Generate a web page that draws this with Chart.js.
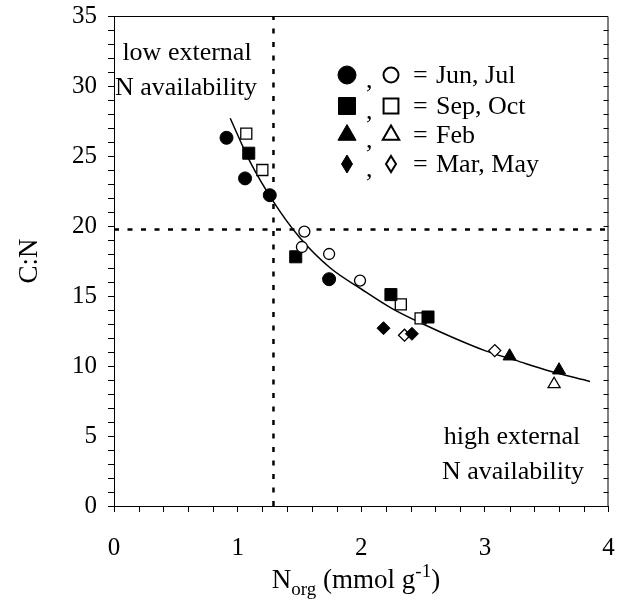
<!DOCTYPE html>
<html>
<head>
<meta charset="utf-8">
<script src="https://cdn.jsdelivr.net/npm/chart.js@4"></script>
<style>
  html, body { margin: 0; padding: 0; background: #fff; }
  canvas { display: block; }
</style>
</head>
<body>
<canvas id="cn-chart" width="618" height="600"></canvas>
<script>
// values: N_org (mmol g-1) vs C:N
const junX = [0.91, 1.06, 1.26, 1.74];
const junY = [26.3, 23.4, 22.2, 16.2];
const julX = [1.54, 1.52, 1.74, 1.99];
const julY = [19.6, 18.5, 18.0, 16.1];
const sepX = [1.09, 1.47, 2.24, 2.54];
const sepY = [25.2, 17.8, 15.1, 13.5];
const octX = [1.07, 1.20, 2.32, 2.48];
const octY = [26.6, 24.0, 14.4, 13.4];
const febFilledX = [3.20, 3.60];
const febFilledY = [10.7, 9.7];
const febOpenX = [3.56];
const febOpenY = [8.7];
const marX = [2.18, 2.41];
const marY = [12.7, 12.3];
const mayX = [2.35, 3.08];
const mayY = [12.2, 11.1];

// fitted curve, read at a few points along it
const fitX = [0.94, 1.1, 1.3, 1.5, 1.75, 2.0, 2.25, 2.5, 2.75, 3.0, 3.25, 3.5, 3.85];
const fitY = [27.7, 24.6, 21.6, 19.2, 17.0, 15.5, 14.1, 13.0, 12.0, 11.1, 10.4, 9.7, 8.9];

// dashed thresholds
const thresholdN = 1.29;
const thresholdCN = 19.75;

const xRange = [0, 4];
const yRange = [0, 35];

const SERIF = '"Liberation Serif", "Times New Roman", serif';

function pts(xs, ys) {
    return xs.map((x, i) => ({ x: x, y: ys[i] }));
}

function marker(label, xs, ys, style, radius, filled) {
    return {
        label: label,
        data: pts(xs, ys),
        pointStyle: style,
        pointRadius: radius,
        pointHoverRadius: radius,
        backgroundColor: filled ? '#000' : '#fff',
        borderColor: '#000',
        borderWidth: filled ? 1 : 1.3,
        showLine: false
    };
}

const datasets = [
    marker('Jun', junX, junY, 'circle', 6.5, true),
    marker('Jul', julX, julY, 'circle', 5.5, false),
    marker('Sep', sepX, sepY, 'rect', 8.5, true),
    marker('Oct', octX, octY, 'rect', 7.8, false),
    marker('Feb', febFilledX, febFilledY, 'triangle', 7.5, true),
    marker('Feb open', febOpenX, febOpenY, 'triangle', 7, false),
    marker('Mar', marX, marY, 'rectRot', 6.5, true),
    marker('May', mayX, mayY, 'rectRot', 6, false),
    {
        label: 'fit',
        data: pts(fitX, fitY),
        showLine: true,
        borderColor: '#000',
        borderWidth: 1.5,
        pointRadius: 0,
        cubicInterpolationMode: 'monotone',
        fill: false
    },
    {
        label: 'hline',
        data: [{ x: xRange[0], y: thresholdCN }, { x: xRange[1], y: thresholdCN }],
        showLine: true,
        borderColor: '#000',
        borderWidth: 2.5,
        borderDash: [5, 8.5],
        pointRadius: 0
    },
    {
        label: 'vline',
        data: [{ x: thresholdN, y: yRange[0] }, { x: thresholdN, y: yRange[1] }],
        showLine: true,
        borderColor: '#000',
        borderWidth: 2.5,
        borderDash: [5, 8.5],
        pointRadius: 0
    }
];

// minor ticks, box and texts that chart.js does not draw by itself
const decorations = {
    id: 'decorations',
    afterDraw(chart) {
        const ctx = chart.ctx;
        const area = chart.chartArea;
        const xs = chart.scales.x;
        const ys = chart.scales.y;
        ctx.save();
        ctx.strokeStyle = '#000';
        ctx.lineWidth = 1;

        // top + right frame
        ctx.beginPath();
        ctx.moveTo(area.left, area.top + 0.5);
        ctx.lineTo(area.right - 0.5, area.top + 0.5);
        ctx.lineTo(area.right - 0.5, area.bottom);
        ctx.stroke();

        ctx.beginPath();
        for (let v = 0.2; v < xRange[1]; v += 0.2) {
            if (Math.abs(v - Math.round(v)) < 0.01) continue;
            const px = Math.round(xs.getPixelForValue(v)) + 0.5;
            ctx.moveTo(px, area.bottom);
            ctx.lineTo(px, area.bottom + 6);
        }
        for (let v = 1; v < yRange[1]; v++) {
            const py = Math.round(ys.getPixelForValue(v)) + 0.5;
            if (v % 5 !== 0) {
                ctx.moveTo(area.left - 6, py);
                ctx.lineTo(area.left, py);
            }
            ctx.moveTo(area.right - 5, py);
            ctx.lineTo(area.right, py);
        }
        ctx.stroke();

        // x tick labels
        ctx.fillStyle = '#000';
        ctx.font = '25px ' + SERIF;
        ctx.textAlign = 'center';
        ctx.textBaseline = 'middle';
        xs.ticks.forEach(t => {
            ctx.fillText(String(t.value), xs.getPixelForValue(t.value), 548);
        });

        // axis titles
        ctx.textBaseline = 'alphabetic';
        ctx.textAlign = 'left';
        const big = '27px ' + SERIF;
        const small = '19px ' + SERIF;
        const parts = [
            { t: 'N', f: big, dy: 0 },
            { t: 'org', f: small, dy: 7 },
            { t: ' (mmol g', f: big, dy: 0 },
            { t: '-1', f: small, dy: -11 },
            { t: ')', f: big, dy: 0 }
        ];
        let total = 0;
        parts.forEach(p => { ctx.font = p.f; p.w = ctx.measureText(p.t).width; total += p.w; });
        let cx = 356 - total / 2;
        parts.forEach(p => {
            ctx.font = p.f;
            ctx.fillText(p.t, cx, 588 + p.dy);
            cx += p.w;
        });

        ctx.save();
        ctx.translate(30, (area.top + area.bottom) / 2);
        ctx.rotate(-Math.PI / 2);
        ctx.textAlign = 'center';
        ctx.textBaseline = 'middle';
        ctx.font = big;
        ctx.fillText('C:N', 0, 0);
        ctx.restore();

        // region notes
        ctx.textAlign = 'center';
        ctx.textBaseline = 'middle';
        ctx.font = '26px ' + SERIF;
        ctx.fillText('low external', 187, 53);
        ctx.fillText('N availability', 186, 88);
        ctx.fillText('high external', 512, 437);
        ctx.fillText('N availability', 513, 472);

        // legend
        const rows = [
            { y: 75, filled: 'circle', text: 'Jun, Jul' },
            { y: 106, filled: 'rect', text: 'Sep, Oct' },
            { y: 135, filled: 'triangle', text: 'Feb' },
            { y: 164, filled: 'diamond', text: 'Mar, May' }
        ];
        const sizes = { circle: [9, 7.5], rect: [12, 10.5], triangle: [10.5, 9.5] };
        rows.forEach(r => {
            [[347, true], [391, false]].forEach(([mx, filled]) => {
                ctx.fillStyle = filled ? '#000' : '#fff';
                ctx.strokeStyle = '#000';
                ctx.lineWidth = filled ? 1 : 2;
                if (r.filled === 'diamond') {
                    const hw = filled ? 5.5 : 5, hh = filled ? 9 : 8;
                    ctx.beginPath();
                    ctx.moveTo(mx, r.y - hh);
                    ctx.lineTo(mx + hw, r.y);
                    ctx.lineTo(mx, r.y + hh);
                    ctx.lineTo(mx - hw, r.y);
                    ctx.closePath();
                    ctx.fill();
                    ctx.stroke();
                } else {
                    Chart.helpers.drawPoint(ctx, {
                        pointStyle: r.filled,
                        radius: sizes[r.filled][filled ? 0 : 1],
                        rotation: 0,
                        borderWidth: filled ? 1 : 2
                    }, mx, r.y);
                }
            });
            ctx.fillStyle = '#000';
            ctx.font = '26px ' + SERIF;
            ctx.textAlign = 'left';
            ctx.textBaseline = 'middle';
            ctx.fillText(',', 366, r.y + 6);
            ctx.fillText('=', 413, r.y + 1);
            ctx.fillText(r.text, 436, r.y + 1);
        });
        ctx.restore();
    }
};

function initializeChart() {
    const ctx = document.getElementById('cn-chart');
    const tickFont = { family: SERIF, size: 25 };

    new Chart(ctx, {
        type: 'scatter',
        data: { datasets: datasets },
        options: {
            responsive: false,
            animation: false,
            events: [],
            layout: { padding: { left: 0, right: 5, top: 16, bottom: 0 } },
            plugins: {
                legend: { display: false },
                tooltip: { enabled: false }
            },
            scales: {
                x: {
                    type: 'linear',
                    min: xRange[0],
                    max: xRange[1],
                    ticks: { stepSize: 1, display: false },
                    grid: { display: true, drawOnChartArea: false, drawTicks: true, tickLength: 6, color: '#000' },
                    border: { color: '#000', width: 1 },
                    afterFit(scale) {
                        scale.height = 94;
                    }
                },
                y: {
                    type: 'linear',
                    min: yRange[0],
                    max: yRange[1],
                    ticks: { stepSize: 5, color: '#000', font: tickFont, padding: 11 },
                    grid: { display: true, drawOnChartArea: false, drawTicks: true, tickLength: 6, color: '#000' },
                    border: { color: '#000', width: 1 },
                    afterFit(scale) {
                        scale.width = 114;
                        scale.paddingTop = 0;
                        scale.paddingBottom = 0;
                    }
                }
            }
        },
        plugins: [decorations]
    });
}

if (document.readyState === 'loading') {
    document.addEventListener('DOMContentLoaded', initializeChart);
} else {
    initializeChart();
}
</script>
</body>
</html>
